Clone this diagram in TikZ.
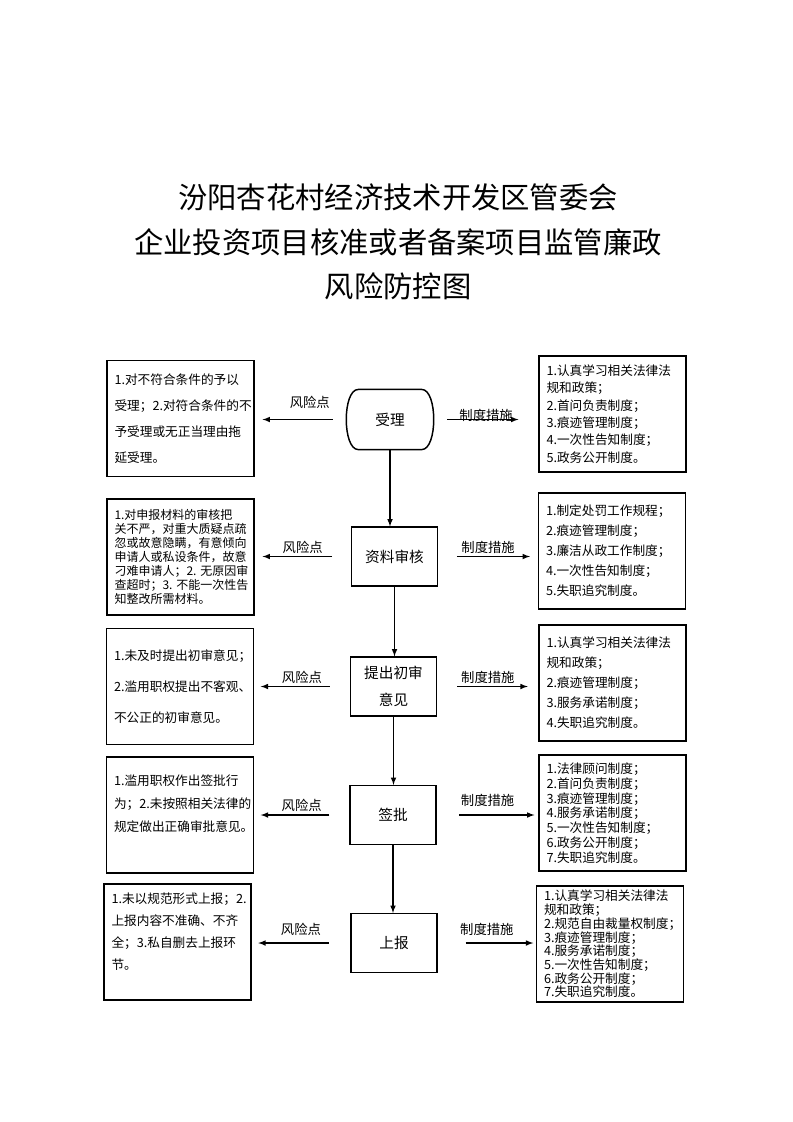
\documentclass[tikz,border=0pt]{standalone}
\usepackage{fontspec}
\setmainfont{Noto Sans CJK SC}

\begin{document}
\begin{tikzpicture}[x=0.75pt,y=-0.75pt,
	sidebox/.style={draw,line width=1.1pt,minimum height=87pt,text width=99pt,align=left,inner xsep=5.5pt,inner ysep=0pt},
	stepbox/.style={draw,line width=1.1pt,minimum width=64.5pt,minimum height=44pt,align=center,font=\fontsize{11}{20}\selectfont},
	flowarrow/.style={line width=0.9pt,-latex},
	tag/.style={font=\fontsize{10}{12}\selectfont,inner sep=2pt}]
	\useasboundingbox (0,0) rectangle (793,1122);
	
	% title
	\node[align=center,font=\fontsize{22}{33.4}\selectfont] (title) at (398,242)
		{汾阳杏花村经济技术开发区管委会\\企业投资项目核准或者备案项目监管廉政\\风险防控图};
	
	% middle column
	\node[stepbox,draw=none] (accept) at (390,419.5) {受理};
	\draw[line width=1.1pt] ([xshift=9pt]accept.north west) -- ([xshift=-9pt]accept.north east)
		.. controls ([xshift=3pt]accept.north east) and ([xshift=3pt]accept.south east) .. ([xshift=-9pt]accept.south east)
		-- ([xshift=9pt]accept.south west)
		.. controls ([xshift=-3pt]accept.south west) and ([xshift=-3pt]accept.north west) .. cycle;
	\node[stepbox] (review) at (394.5,556.5) {资料审核};
	\node[stepbox] (opinion) at (393.5,686.5) {提出初审\\意见};
	\node[stepbox] (approve) at (393,815) {签批};
	\node[stepbox] (report) at (394,943) {上报};
	
	\draw[flowarrow] (accept.south) -- (accept.south |- review.north);
	\draw[flowarrow] (review.south) -- (review.south |- opinion.north);
	\draw[flowarrow] (opinion.south) -- (opinion.south |- approve.north);
	\draw[flowarrow] (approve.south) -- (approve.south |- report.north);
	
	% risk points
	\node[sidebox,font=\fontsize{9.5}{19.5}\selectfont] (risk1) at (180.5,418.5)
		{1.对不符合条件的予以\\受理；2.对符合条件的不\\予受理或无正当理由拖\\延受理。};
	\node[sidebox,font=\fontsize{9}{10.6}\selectfont] (risk2) at (180.5,557)
		{1.对申报材料的审核把\\关不严，对重大质疑点疏\\忽或故意隐瞒，有意倾向\\申请人或私设条件，故意\\刁难申请人；2.~无原因审\\查超时；3.~不能一次性告\\知整改所需材料。};
	\node[sidebox,font=\fontsize{9.5}{23.5}\selectfont] (risk3) at (180,686.5)
		{1.未及时提出初审意见；\\2.滥用职权提出不客观、\\不公正的初审意见。};
	\node[sidebox,font=\fontsize{9.5}{17.3}\selectfont] (risk4) at (180,815)
		{1.滥用职权作出签批行\\为；2.未按照相关法律的\\规定做出正确审批意见。\\\mbox{}};
	\node[sidebox,font=\fontsize{9.5}{16.5}\selectfont] (risk5) at (177.5,942)
		{1.未以规范形式上报；2.\\上报内容不准确、不齐\\全；3.私自删去上报环\\节。\\\mbox{}};
	
	% rules
	\node[sidebox,font=\fontsize{9.5}{13}\selectfont] (rule1) at (612.5,414)
		{1.认真学习相关法律法\\规和政策；\\2.首问负责制度；\\3.痕迹管理制度；\\4.一次性告知制度；\\5.政务公开制度。};
	\node[sidebox,font=\fontsize{9.5}{15}\selectfont] (rule2) at (612,551)
		{1.制定处罚工作规程；\\2.痕迹管理制度；\\3.廉洁从政工作制度；\\4.一次性告知制度；\\5.失职追究制度。};
	\node[sidebox,font=\fontsize{9.5}{15}\selectfont] (rule3) at (612.5,683)
		{1.认真学习相关法律法\\规和政策；\\2.痕迹管理制度；\\3.服务承诺制度；\\4.失职追究制度。};
	\node[sidebox,font=\fontsize{9.5}{11.1}\selectfont] (rule4) at (612.5,813)
		{1.法律顾问制度；\\2.首问负责制度；\\3.痕迹管理制度；\\4.服务承诺制度；\\5.一次性告知制度；\\6.政务公开制度；\\7.失职追究制度。};
	\node[sidebox,font=\fontsize{9.5}{10.3}\selectfont] (rule5) at (610,944)
		{1.认真学习相关法律法\\规和政策；\\2.规范自由裁量权制度；\\3.痕迹管理制度；\\4.服务承诺制度；\\5.一次性告知制度；\\6.政务公开制度；\\7.失职追究制度。};
	
	% side arrows
	\draw[flowarrow,shorten <=10pt,shorten >=6pt] (accept.west) -- (accept.west -| risk1.east) node[tag,midway,above,xshift=7pt,yshift=6pt] {风险点};
	\draw[flowarrow,shorten <=10pt,shorten >=15pt] (accept.east) -- (accept.east -| rule1.west) node[tag,midway,above,yshift=-4pt] {制度措施};
	\draw[flowarrow,shorten <=14pt,shorten >=6pt] (review.west) -- (review.west -| risk2.east) node[tag,midway,above] {风险点};
	\draw[flowarrow,shorten <=14pt,shorten >=6pt] (review.east) -- (review.east -| rule2.west) node[tag,midway,above] {制度措施};
	\draw[flowarrow,shorten <=15pt,shorten >=5pt] (opinion.west) -- (opinion.west -| risk3.east) node[tag,midway,above] {风险点};
	\draw[flowarrow,shorten <=15pt,shorten >=8pt] (opinion.east) -- (opinion.east -| rule3.west) node[tag,midway,above] {制度措施};
	\draw[flowarrow,shorten <=15pt,shorten >=5pt] (approve.west) -- (approve.west -| risk4.east) node[tag,midway,above] {风险点};
	\draw[flowarrow,shorten <=17pt,shorten >=3pt] (approve.east) -- (approve.east -| rule4.west) node[tag,midway,above,yshift=4pt] {制度措施};
	\draw[flowarrow,shorten <=16pt,shorten >=5pt] (report.west) -- (report.west -| risk5.east) node[tag,midway,above,yshift=3pt] {风险点};
	\draw[flowarrow,shorten <=21pt,shorten >=2pt] (report.east) -- (report.east -| rule5.west) node[tag,midway,above,yshift=3pt] {制度措施};
\end{tikzpicture}
\end{document}
